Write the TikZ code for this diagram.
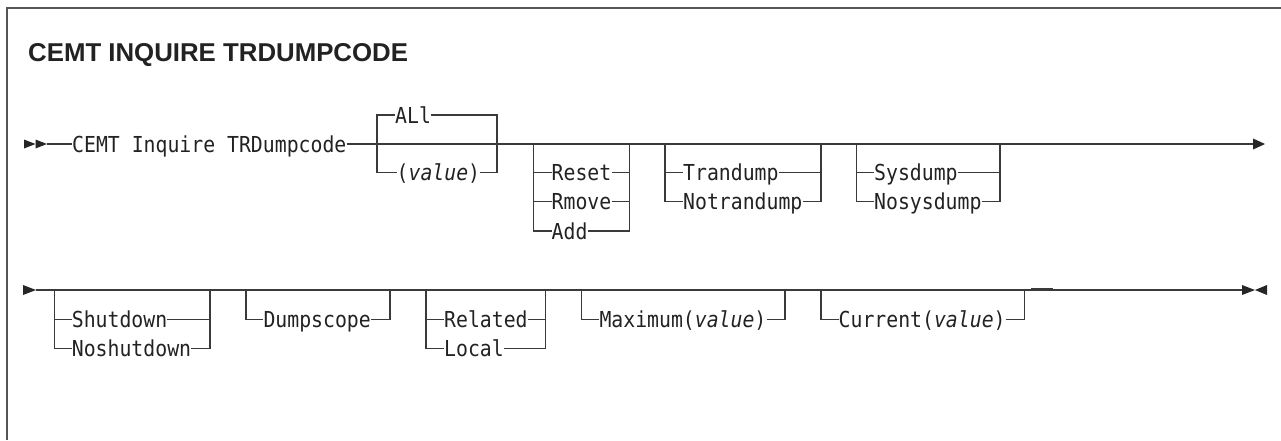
\documentclass[tikz,border=0pt]{standalone}
\usepackage{fontspec}
\newfontfamily\synfont[FakeStretch=0.9]{DejaVu Sans Mono}
\newfontfamily\titlefont{Liberation Sans}
\definecolor{lncol}{HTML}{3A3A3A}
\definecolor{txtcol}{HTML}{222222}
\definecolor{bordcol}{HTML}{555555}
\begin{document}
\begin{tikzpicture}[x=1pt,y=-1pt,
  syn/.style={font={\synfont\fontsize{22}{26}\selectfont}, inner sep=0pt, anchor=west,
              text height=16pt, text depth=0pt, text=txtcol},
  ln/.style={draw=lncol, line width=1.5pt},
  tip/.style={fill=black!85},
  border/.style={draw=bordcol, line width=2pt},
  ttl/.style={font={\titlefont\bfseries\fontsize{25.8}{30}\selectfont}, inner sep=0pt, anchor=base west, text=txtcol}]
\useasboundingbox (0,0) rectangle (1281,440);
\draw[border] (7,440) -- (7,8) -- (1281,8);
\node[ttl] (title) at (28,61.5) {CEMT INQUIRE TRDUMPCODE};

% ---------- row 1 ----------
\coordinate (s1) at (47,144);
\coordinate (e1) at (1253,144);
\fill[tip] (24,139.5) -- (35.5,144) -- (24,148.5) -- cycle;
\fill[tip] (35.5,139.5) -- (47,144) -- (35.5,148.5) -- cycle;
\fill[tip] (1253,138.5) -- (1265,144) -- (1253,149.5) -- cycle;
\node[syn] (cemt) at (72,144) {CEMT Inquire TRDumpcode};
\draw[ln] (s1) -- (cemt.west);
\draw[ln] (cemt.east) -- (e1);

% ALl / (value)
\coordinate (aL) at (377,144);
\coordinate (aR) at (497,144);
\node[syn] (all) at (395,115) {ALl};
\node[syn] (val) at (396.5,172.5) {(\textit{value})};
\draw[ln] (all.west) -- (aL |- all) -- (aL |- val) -- (val.west);
\draw[ln] (all.east) -- (aR |- all) -- (aR |- val) -- (val.east);

% Reset / Rmove / Add
\coordinate (bL) at (533.3,144);
\coordinate (bR) at (629.3,144);
\node[syn] (reset) at (551.5,172.5) {Reset};
\node[syn] (rmove) at (551.5,201.5) {Rmove};
\node[syn] (add) at (551.5,231) {Add};
\draw[ln] (bL) |- (add.west);
\draw[ln] (bL |- reset) -- (reset.west);
\draw[ln] (bL |- rmove) -- (rmove.west);
\draw[ln] (add.east) -| (bR);
\draw[ln] (reset.east) -- (bR |- reset);
\draw[ln] (rmove.east) -- (bR |- rmove);

% Trandump / Notrandump
\coordinate (cL) at (665,144);
\coordinate (cR) at (821,144);
\node[syn] (tran) at (683,172.5) {Trandump};
\node[syn] (notran) at (683,201.5) {Notrandump};
\draw[ln] (cL) |- (notran.west);
\draw[ln] (cL |- tran) -- (tran.west);
\draw[ln] (notran.east) -| (cR);
\draw[ln] (tran.east) -- (cR |- tran);

% Sysdump / Nosysdump
\coordinate (dL) at (856.7,144);
\coordinate (dR) at (1000,144);
\node[syn] (sys) at (874,172.5) {Sysdump};
\node[syn] (nosys) at (874,201.5) {Nosysdump};
\draw[ln] (dL) |- (nosys.west);
\draw[ln] (dL |- sys) -- (sys.west);
\draw[ln] (nosys.east) -| (dR);
\draw[ln] (sys.east) -- (dR |- sys);

% ---------- row 2 ----------
\coordinate (s2) at (36,290);
\coordinate (e2) at (1242,290);
\fill[tip] (23,285) -- (36,290) -- (23,295) -- cycle;
\fill[tip] (1242,285) -- (1255,290) -- (1242,295) -- cycle;
\fill[tip] (1267,285) -- (1255,290) -- (1267,295) -- cycle;
\draw[ln] (s2) -- (e2);
\draw[lncol, line width=2.2pt] (1031,289.5) -- (1053,289.5);

% Shutdown / Noshutdown
\coordinate (fL) at (54.3,290);
\coordinate (fR) at (210,290);
\node[syn] (shut) at (71.7,319.5) {Shutdown};
\node[syn] (noshut) at (71.7,348.5) {Noshutdown};
\draw[ln] (fL) |- (noshut.west);
\draw[ln] (fL |- shut) -- (shut.west);
\draw[ln] (noshut.east) -| (fR);
\draw[ln] (shut.east) -- (fR |- shut);

% Dumpscope
\coordinate (gL) at (246,290);
\coordinate (gR) at (390,290);
\node[syn] (dscope) at (263.3,319.5) {Dumpscope};
\draw[ln] (gL) |- (dscope.west);
\draw[ln] (dscope.east) -| (gR);

% Related / Local
\coordinate (hL) at (426,290);
\coordinate (hR) at (545.7,290);
\node[syn] (rel) at (444,319.5) {Related};
\node[syn] (loc) at (444,348.5) {Local};
\draw[ln] (hL) |- (loc.west);
\draw[ln] (hL |- rel) -- (rel.west);
\draw[ln] (loc.east) -| (hR);
\draw[ln] (rel.east) -- (hR |- rel);

% Maximum(value)
\coordinate (iL) at (581.7,290);
\coordinate (iR) at (785,290);
\node[syn] (max) at (599.3,319.5) {Maximum(\textit{value})};
\draw[ln] (iL) |- (max.west);
\draw[ln] (max.east) -| (iR);

% Current(value)
\coordinate (jL) at (821,290);
\coordinate (jR) at (1024.3,290);
\node[syn] (cur) at (838.5,319.5) {Current(\textit{value})};
\draw[ln] (jL) |- (cur.west);
\draw[ln] (cur.east) -| (jR);
\end{tikzpicture}
\end{document}
